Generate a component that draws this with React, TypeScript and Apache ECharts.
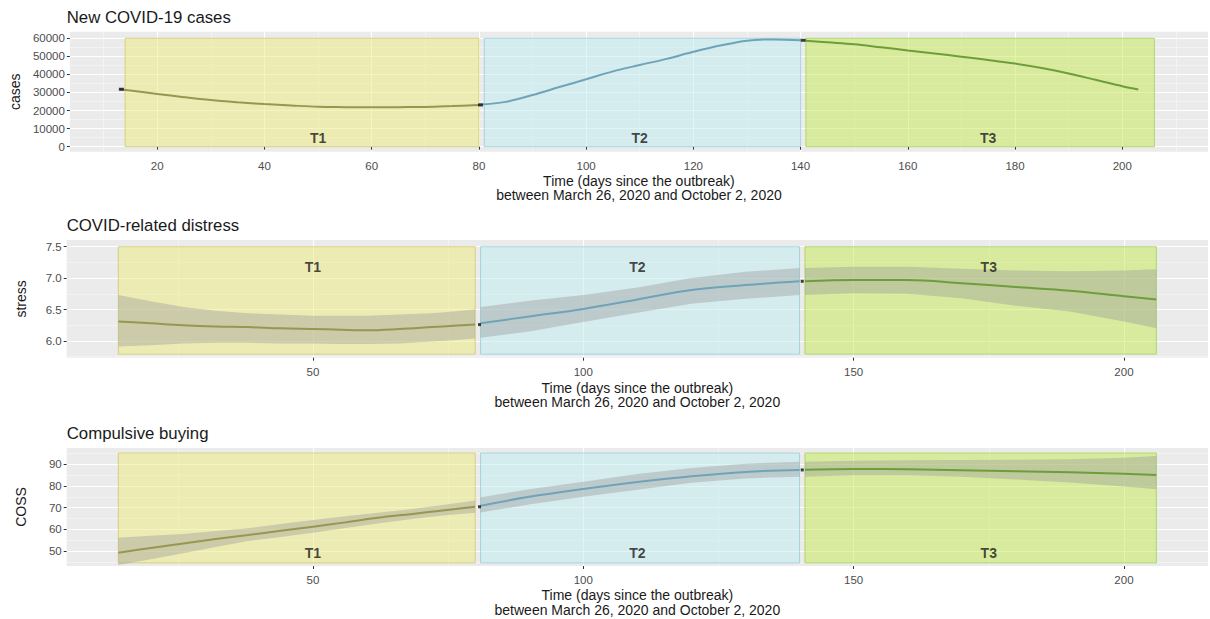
import React, { useEffect, useRef } from "react";
import * as echarts from "echarts";

const FONT = '"Liberation Sans", Arial, Helvetica, sans-serif';

const PANEL_TITLES = ["New COVID-19 cases", "COVID-related distress", "Compulsive buying"];
const Y_NAMES = ["cases", "stress", "COSS"];
const X_NAME = "Time (days since the outbreak)\nbetween March 26, 2020 and October 2, 2020";
const PHASES = ["T1", "T2", "T3"];
const PHASE_START = [14, 81, 141];
const PHASE_END = [80, 140, 206];
const PHASE_LABEL_DAY = [50, 110, 175];

const X1_TICKS = [20, 40, 60, 80, 100, 120, 140, 160, 180, 200];
const X1_MINOR = [10, 30, 50, 70, 90, 110, 130, 150, 170, 190, 210];
const X23_TICKS = [50, 100, 150, 200];
const X23_MINOR = [25, 75, 125, 175];

const Y1_TICKS = [0, 10000, 20000, 30000, 40000, 50000, 60000];
const Y1_MINOR = [5000, 15000, 25000, 35000, 45000, 55000];
const Y2_TICKS = [6.0, 6.5, 7.0, 7.5];
const Y2_MINOR = [5.75, 6.25, 6.75, 7.25];
const Y3_TICKS = [50, 60, 70, 80, 90];
const Y3_MINOR = [45, 55, 65, 75, 85, 95];

// New COVID-19 cases
const CASES_T1_DAYS = [13, 20, 25, 30, 35, 40, 45, 50, 55, 60, 65, 70, 75, 80];
const CASES_T1 = [31800, 29200, 27400, 25800, 24600, 23600, 22800, 22100, 21900, 21800, 21900, 22000, 22500, 23100];
const CASES_T2_DAYS = [80, 85, 90, 95, 100, 105, 110, 115, 120, 125, 130, 135, 140];
const CASES_T2 = [23300, 24800, 28600, 33000, 37300, 41700, 45200, 48600, 52500, 56000, 58700, 59400, 58900];
const CASES_T3_DAYS = [141, 145, 150, 155, 160, 165, 170, 175, 180, 185, 190, 195, 200, 203];
const CASES_T3 = [58700, 57800, 56700, 55000, 53300, 51600, 49800, 48000, 46000, 43500, 40500, 37000, 33500, 31700];

// COVID-related distress
const ST_T1_DAYS = [14, 20, 26, 32, 38, 44, 50, 55, 60, 66, 72, 76, 80];
const ST_T1 = [6.31, 6.28, 6.25, 6.23, 6.22, 6.2, 6.19, 6.18, 6.17, 6.19, 6.22, 6.24, 6.26];
const ST_T1_HI = [6.73, 6.63, 6.54, 6.48, 6.44, 6.42, 6.4, 6.4, 6.4, 6.42, 6.44, 6.47, 6.5];
const ST_T1_LO = [5.91, 5.93, 5.96, 5.97, 5.97, 5.96, 5.96, 5.95, 5.95, 5.96, 5.99, 6.01, 6.04];
const ST_T2_DAYS = [81, 90, 100, 110, 120, 130, 140];
const ST_T2 = [6.28, 6.39, 6.51, 6.66, 6.81, 6.89, 6.95];
const ST_T2_HI = [6.54, 6.64, 6.73, 6.85, 7.0, 7.1, 7.16];
const ST_T2_LO = [6.05, 6.15, 6.3, 6.45, 6.59, 6.67, 6.73];
const ST_T3_DAYS = [141, 150, 160, 170, 180, 190, 200, 206];
const ST_T3 = [6.95, 6.97, 6.97, 6.92, 6.86, 6.8, 6.71, 6.66];
const ST_T3_HI = [7.16, 7.18, 7.18, 7.15, 7.12, 7.11, 7.12, 7.14];
const ST_T3_LO = [6.73, 6.76, 6.75, 6.68, 6.56, 6.47, 6.31, 6.2];

// Compulsive buying (COSS)
const CB_T1_DAYS = [14, 20, 26, 32, 38, 44, 50, 56, 62, 68, 74, 80];
const CB_T1 = [49.2, 51.4, 53.5, 55.5, 57.4, 59.3, 61.2, 63.2, 65.3, 67.0, 68.7, 70.4];
const CB_T1_HI = [56.1, 57.0, 57.8, 59.2, 60.5, 62.4, 64.3, 66.0, 67.6, 69.2, 71.2, 73.3];
const CB_T1_LO = [43.5, 46.2, 48.9, 51.8, 54.6, 56.5, 58.4, 60.6, 62.7, 64.7, 66.4, 67.6];
const CB_T2_DAYS = [81, 90, 100, 110, 120, 130, 140];
const CB_T2 = [70.9, 75.0, 78.6, 81.8, 84.5, 86.5, 87.4];
const CB_T2_HI = [74.8, 78.5, 82.0, 85.5, 88.3, 90.3, 91.2];
const CB_T2_LO = [67.8, 71.5, 75.0, 78.3, 81.5, 83.5, 84.3];
const CB_T3_DAYS = [141, 150, 160, 170, 180, 190, 200, 206];
const CB_T3 = [87.5, 87.8, 87.7, 87.3, 86.8, 86.3, 85.6, 85.1];
const CB_T3_HI = [91.2, 91.6, 91.9, 92.0, 92.1, 92.3, 93.0, 93.8];
const CB_T3_LO = [84.3, 85.0, 84.9, 84.2, 83.0, 81.6, 79.8, 78.5];

const RECT_Y = [
  [0, 60000],
  [5.79, 7.5],
  [44.5, 95.2],
];
const LABEL_Y = [5000, 7.17, 49.2];

const RECT_FILL = ["rgba(239,236,126,0.5)", "rgba(192,237,242,0.5)", "rgba(198,234,82,0.5)"];
const RECT_STROKE = ["rgba(205,203,110,0.8)", "rgba(150,205,218,0.8)", "rgba(160,210,90,0.8)"];
const LINE_COLOR = ["#979750", "#6fa3b8", "#6d9e3a"];
const BAND_FILL = "rgba(153,153,153,0.4)";

type Seg = { days: number[]; vals: number[]; hi?: number[]; lo?: number[] };

const PANELS = [
  {
    grid: { left: 66.7, top: 31.7, width: 1141.3, height: 120 },
    titleTop: 8,
    x: [3.7, 216.0],
    y: [-2770, 63650],
    xTicks: X1_TICKS,
    xMinor: X1_MINOR,
    yTicks: Y1_TICKS,
    yMinor: Y1_MINOR,
    yFmt: (v: number) => String(v),
    nameGap: 22,
    segs: [
      { days: CASES_T1_DAYS, vals: CASES_T1 },
      { days: CASES_T2_DAYS, vals: CASES_T2 },
      { days: CASES_T3_DAYS, vals: CASES_T3 },
    ] as Seg[],
    startMarker: true,
  },
  {
    grid: { left: 66.7, top: 240, width: 1141.3, height: 117.7 },
    titleTop: 216,
    x: [4.45, 215.55],
    y: [5.733, 7.607],
    xTicks: X23_TICKS,
    xMinor: X23_MINOR,
    yTicks: Y2_TICKS,
    yMinor: Y2_MINOR,
    yFmt: (v: number) => v.toFixed(1),
    nameGap: 23,
    segs: [
      { days: ST_T1_DAYS, vals: ST_T1, hi: ST_T1_HI, lo: ST_T1_LO },
      { days: ST_T2_DAYS, vals: ST_T2, hi: ST_T2_HI, lo: ST_T2_LO },
      { days: ST_T3_DAYS, vals: ST_T3, hi: ST_T3_HI, lo: ST_T3_LO },
    ] as Seg[],
    startMarker: false,
  },
  {
    grid: { left: 66.7, top: 448, width: 1141.3, height: 118 },
    titleTop: 424.5,
    x: [4.45, 215.55],
    y: [43.07, 97.52],
    xTicks: X23_TICKS,
    xMinor: X23_MINOR,
    yTicks: Y3_TICKS,
    yMinor: Y3_MINOR,
    yFmt: (v: number) => String(v),
    nameGap: 22,
    segs: [
      { days: CB_T1_DAYS, vals: CB_T1, hi: CB_T1_HI, lo: CB_T1_LO },
      { days: CB_T2_DAYS, vals: CB_T2, hi: CB_T2_HI, lo: CB_T2_LO },
      { days: CB_T3_DAYS, vals: CB_T3, hi: CB_T3_HI, lo: CB_T3_LO },
    ] as Seg[],
    startMarker: false,
  },
];

function buildOption() {
  const grids: any[] = [];
  const xAxes: any[] = [];
  const yAxes: any[] = [];
  const titles: any[] = [];
  const series: any[] = [];

  PANELS.forEach((p, pi) => {
    grids.push({ ...p.grid, backgroundColor: "#ebebeb", show: true, borderWidth: 0 });
    titles.push({
      text: PANEL_TITLES[pi],
      left: 66.7,
      top: p.titleTop,
      padding: 0,
      textStyle: { fontFamily: FONT, fontSize: 16.8, fontWeight: "normal", color: "#1a1a1a", lineHeight: 18 },
    });
    // major x
    xAxes.push({
      type: "value",
      gridIndex: pi,
      position: "bottom",
      min: p.x[0],
      max: p.x[1],
      axisLine: { show: false },
      axisTick: { show: true, length: 3, lineStyle: { color: "#333333", width: 1 }, customValues: p.xTicks },
      axisLabel: { customValues: p.xTicks, color: "#4d4d4d", fontSize: 11.5, fontFamily: FONT, margin: 8 },
      splitLine: { show: true, lineStyle: { color: "#ffffff", width: 1.1 } },
      name: X_NAME,
      nameLocation: "middle",
      nameGap: p.nameGap,
      nameTextStyle: { fontFamily: FONT, fontSize: 14, color: "#1a1a1a", lineHeight: 14.5 },
    });
    // minor x
    xAxes.push({
      type: "value",
      gridIndex: pi,
      position: "top",
      min: p.x[0],
      max: p.x[1],
      axisLine: { show: false },
      axisTick: { show: false, customValues: p.xMinor },
      axisLabel: { show: false, customValues: p.xMinor },
      splitLine: { show: true, lineStyle: { color: "#f7f7f7", width: 0.7 } },
    });
    // major y
    yAxes.push({
      type: "value",
      gridIndex: pi,
      position: "left",
      min: p.y[0],
      max: p.y[1],
      axisLine: { show: false },
      axisTick: { show: true, length: 3, lineStyle: { color: "#333333", width: 1 }, customValues: p.yTicks },
      axisLabel: {
        customValues: p.yTicks,
        color: "#4d4d4d",
        fontSize: 11.5,
        fontFamily: FONT,
        margin: 5,
        formatter: (v: number) => p.yFmt(v),
      },
      splitLine: { show: true, lineStyle: { color: "#ffffff", width: 1.1 } },
      name: Y_NAMES[pi],
      nameLocation: "middle",
      nameRotate: 90,
      nameGap: 39,
      nameTextStyle: { fontFamily: FONT, fontSize: 14, color: "#1a1a1a" },
    });
    // minor y
    yAxes.push({
      type: "value",
      gridIndex: pi,
      position: "right",
      min: p.y[0],
      max: p.y[1],
      axisLine: { show: false },
      axisTick: { show: false, customValues: p.yMinor },
      axisLabel: { show: false, customValues: p.yMinor },
      splitLine: { show: true, lineStyle: { color: "#f7f7f7", width: 0.7 } },
    });

    const xi = pi * 2;
    const yi = pi * 2;

    // phase rectangles
    series.push({
      type: "custom",
      xAxisIndex: xi,
      yAxisIndex: yi,
      silent: true,
      z: 1,
      data: PHASES.map((_, i) => [PHASE_START[i], PHASE_END[i], RECT_Y[pi][0], RECT_Y[pi][1], i]),
      encode: { x: [0, 1], y: [2, 3] },
      renderItem: (params: any, api: any) => {
        const i = api.value(4);
        const a = api.coord([api.value(0), api.value(3)]);
        const b = api.coord([api.value(1), api.value(2)]);
        return {
          type: "rect",
          shape: { x: a[0], y: a[1], width: b[0] - a[0], height: b[1] - a[1] },
          style: { fill: RECT_FILL[i], stroke: RECT_STROKE[i], lineWidth: 1 },
        };
      },
    });

    // confidence bands
    if (p.segs[0].hi) {
      series.push({
        type: "custom",
        xAxisIndex: xi,
        yAxisIndex: yi,
        silent: true,
        z: 2,
        data: p.segs.map((s, i) => [s.days[0], s.lo![0], i]),
        encode: { x: 0, y: 1 },
        renderItem: (params: any, api: any) => {
          const s = p.segs[api.value(2)];
          const pts: number[][] = [];
          for (let k = 0; k < s.days.length; k++) pts.push(api.coord([s.days[k], s.hi![k]]));
          for (let k = s.days.length - 1; k >= 0; k--) pts.push(api.coord([s.days[k], s.lo![k]]));
          return { type: "polygon", shape: { points: pts }, style: { fill: BAND_FILL } };
        },
      });
    }

    // fitted lines
    p.segs.forEach((s, i) => {
      series.push({
        type: "line",
        name: `${PANEL_TITLES[pi]} ${PHASES[i]}`,
        xAxisIndex: xi,
        yAxisIndex: yi,
        z: 3,
        silent: true,
        showSymbol: false,
        smooth: 0.35,
        lineStyle: { color: LINE_COLOR[i], width: 2 },
        data: s.days.map((d, k) => [d, s.vals[k]]),
      });
    });

    // junction markers
    const markers: number[][] = [];
    if (p.startMarker) markers.push([p.segs[0].days[0] + 0.3, p.segs[0].vals[0]]);
    markers.push([(p.segs[0].days[p.segs[0].days.length - 1] + p.segs[1].days[0]) / 2 + 0.3, p.segs[0].vals[p.segs[0].vals.length - 1]]);
    markers.push([(p.segs[1].days[p.segs[1].days.length - 1] + p.segs[2].days[0]) / 2, p.segs[1].vals[p.segs[1].vals.length - 1]]);
    series.push({
      type: "scatter",
      xAxisIndex: xi,
      yAxisIndex: yi,
      z: 4,
      silent: true,
      symbol: "rect",
      symbolSize: pi === 0 ? [5, 3] : [3, 3],
      itemStyle: { color: "#111111" },
      data: markers,
    });

    // phase labels
    series.push({
      type: "scatter",
      xAxisIndex: xi,
      yAxisIndex: yi,
      z: 5,
      silent: true,
      symbolSize: 1,
      itemStyle: { color: "rgba(0,0,0,0)" },
      label: {
        show: true,
        position: "inside",
        formatter: (prm: any) => prm.name,
        fontFamily: FONT,
        fontSize: 14,
        fontWeight: "bold",
        color: "#1a1a1a",
      },
      data: PHASES.map((t, i) => ({ name: t, value: [PHASE_LABEL_DAY[i], LABEL_Y[pi]] })),
    });
  });

  return {
    animation: false,
    backgroundColor: "#ffffff",
    title: titles,
    grid: grids,
    xAxis: xAxes,
    yAxis: yAxes,
    series,
  };
}

export default function App() {
  const ref = useRef<HTMLDivElement>(null);
  useEffect(() => {
    document.body.style.margin = "0";
    const chart = echarts.init(ref.current!, null, { renderer: "svg" });
    chart.setOption(buildOption() as any);
    return () => chart.dispose();
  }, []);
  return <div ref={ref} style={{ width: 1210, height: 619 }} />;
}
